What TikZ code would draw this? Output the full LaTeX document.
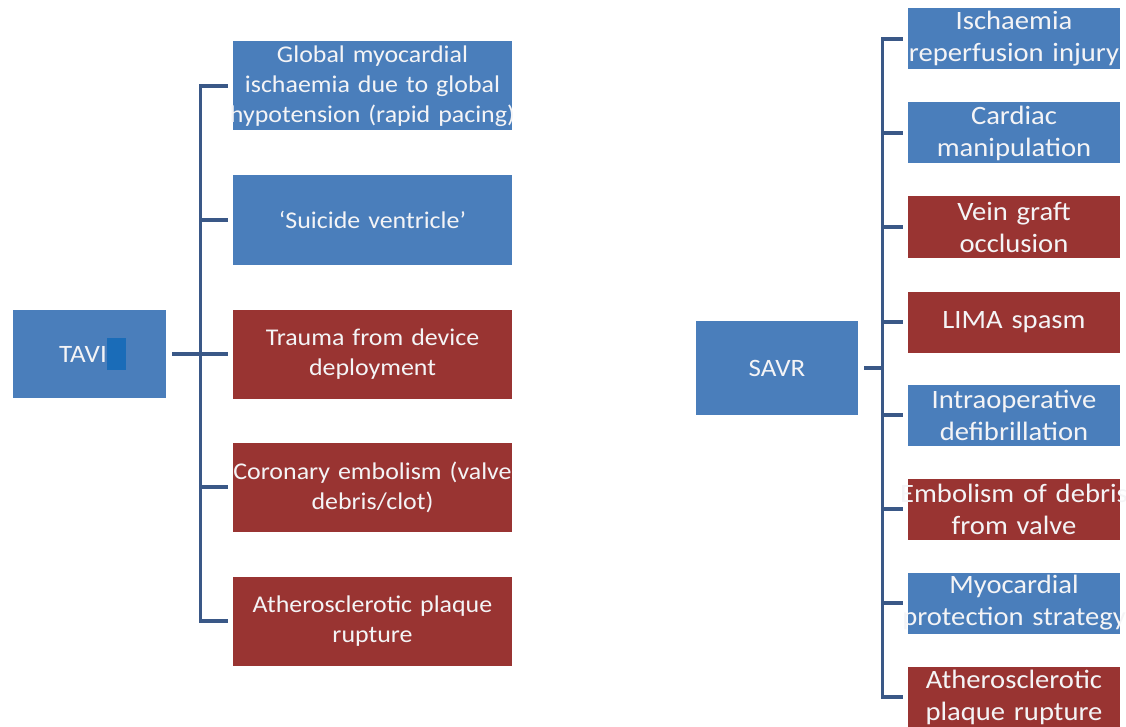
\documentclass[tikz,border=0pt]{standalone}
\usepackage{fontspec}
\setmainfont{Carlito}[FakeStretch=1.08]
\usetikzlibrary{positioning}
\definecolor{caixaazul}{HTML}{4A7EBB}
\definecolor{caixavermelha}{HTML}{993432}
\definecolor{linha}{HTML}{3A5887}
\definecolor{cursor}{HTML}{1A6CB8}
\definecolor{texto}{HTML}{F4F4F6}
\newcommand{\linhacheia}[1]{\makebox[\linewidth]{#1}}
\begin{document}
\begin{tikzpicture}[
  x=1pt,y=-1pt,
  caixa/.style={inner sep=0pt,align=center,text=texto},
  esq/.style={caixa,text width=279pt,minimum height=89pt,
              font=\fontsize{24}{30}\selectfont},
  dir/.style={caixa,text width=212pt,minimum height=61pt,
              font=\fontsize{26.5}{32}\selectfont},
  azul/.style={fill=caixaazul},
  vermelho/.style={fill=caixavermelha},
  ligacao/.style={draw=linha,line width=3.2pt}
]
  \useasboundingbox (0,0) rectangle (1126,727);
  % lado esquerdo
  \node[caixa,azul,minimum width=153pt,minimum height=88pt] (tavi) at (89.5,354) {};
  \node[caixa,anchor=east,font=\fontsize{25}{30}\selectfont] (tavitxt) at (107,354) {TAVI};
  \node[fill=cursor,minimum width=19pt,minimum height=32pt,inner sep=0pt,right=0pt of tavitxt] (cursor) {};
  \node[esq,azul] (e1) at (372.5,86) {Global myocardial\\ischaemia due to global\\\linhacheia{hypotension (rapid pacing)}};
  \node[esq,azul] (e2) at (372.5,220) {‘Suicide ventricle’};
  \node[esq,vermelho] (e3) at (372.5,354) {Trauma from device\\deployment};
  \node[esq,vermelho] (e4) at (372.5,487) {\linhacheia{Coronary embolism (valve}\\debris/clot)};
  \node[esq,vermelho] (e5) at (372.5,621) {Atherosclerotic plaque\\rupture};
  \draw[ligacao,shorten <=6pt,shorten >=5pt] (tavi.east) -- (e3.west);
  \draw[ligacao,shorten <=5pt,shorten >=5pt] (e1.west) -- ++(-32,0) |- (e5.west);
  \foreach \n in {2,4}
    \draw[ligacao,shorten <=5pt] (e\n.west) -- ++(-32,0);
  % lado direito
  \node[caixa,azul,minimum width=162pt,minimum height=94pt,
        font=\fontsize{25}{30}\selectfont] (savr) at (777,368) {SAVR};
  \node[dir,azul] (d1) at (1014,39) {Ischaemia\\\linhacheia{reperfusion injury}};
  \node[dir,azul] (d2) at (1014,133) {Cardiac\\manipulation};
  \node[dir,vermelho] (d3) at (1014,227) {Vein graft\\occlusion};
  \node[dir,vermelho] (d4) at (1014,322) {LIMA spasm};
  \node[dir,azul] (d5) at (1014,415) {Intraoperative\\defibrillation};
  \node[dir,vermelho] (d6) at (1014,509) {\linhacheia{Embolism of debris}\\from valve};
  \node[dir,azul] (d7) at (1014,603) {Myocardial\\\linhacheia{protection strategy}};
  \node[dir,vermelho] (d8) at (1014,697) {Atherosclerotic\\plaque rupture};
  \coordinate (tronco) at (883,368);
  \draw[ligacao,shorten <=5pt,shorten >=5pt] (d1.west) -- ++(-25,0) |- (d8.west);
  \foreach \n in {2,...,7}
    \draw[ligacao,shorten <=5pt] (d\n.west) -- ++(-25,0);
  \draw[ligacao,shorten <=6pt] (savr.east) -- (tronco);
\end{tikzpicture}
\end{document}
